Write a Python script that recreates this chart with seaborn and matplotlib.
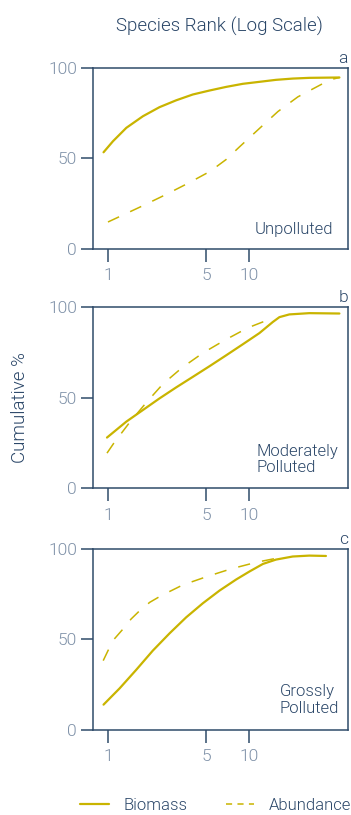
import numpy as np
import pandas as pd
import matplotlib
matplotlib.use("Agg")
import matplotlib.pyplot as plt
from matplotlib.ticker import FixedLocator, FixedFormatter, NullLocator
import seaborn as sns

# ---- data: cumulative % against species rank (log scale) ----
panels = ["a", "b", "c"]
conditions = ["Unpolluted", "Moderately\nPolluted", "Grossly\nPolluted"]

# a: unpolluted
a_bio_rank = [0.93, 1.085, 1.35, 1.77, 2.32, 3.05, 4.0, 5.26, 6.9, 9.06,
              11.9, 15.6, 20.5, 26.9, 44]
a_bio_cum = [53.4, 59.5, 66.9, 73.3, 78.3, 82.1, 85.3, 87.5, 89.5, 91.2,
             92.3, 93.4, 94.1, 94.5, 94.7]
a_abu_rank = [1.0, 1.77, 2.57, 3.75, 5.32, 6.9, 8.59, 11.8, 16.1, 22.3,
              33.5, 39.9, 44]
a_abu_cum = [14.9, 23.9, 30.0, 36.5, 42.9, 49.4, 56.4, 66.3, 75.9, 84.0,
             91.3, 93.9, 94.7]

# b: moderately polluted
b_bio_rank = [0.984, 1.35, 1.77, 2.32, 3.05, 4.0, 5.26, 6.9, 9.06, 11.9,
              14.8, 16.5, 19.4, 26.9, 44]
b_bio_cum = [28.0, 36.8, 43.2, 49.6, 55.7, 61.5, 67.4, 73.4, 79.5, 85.7,
             91.8, 94.5, 96.0, 96.7, 96.5]
b_abu_rank = [0.984, 1.10, 1.41, 1.87, 2.45, 3.37, 4.72, 6.72, 9.84, 14.8]
b_abu_cum = [19.4, 24.9, 35.9, 47.3, 57.5, 66.7, 74.7, 81.7, 88.6, 94.0]

# c: grossly polluted
c_bio_rank = [0.93, 1.21, 1.59, 2.08, 2.74, 3.59, 4.72, 6.2, 8.13, 10.1,
              12.6, 15.6, 20.5, 26.9, 35.3]
c_bio_cum = [14.0, 23.0, 33.3, 43.8, 53.4, 62.2, 70.0, 77.0, 83.1, 87.5,
             91.7, 94.1, 95.8, 96.3, 96.1]
c_abu_rank = [0.925, 1.0, 1.11, 1.28, 1.46, 1.68, 1.98, 2.39, 3.40, 5.12,
              7.5, 11.3, 16.1]
c_abu_cum = [38.3, 43.8, 50.3, 55.8, 61.3, 65.9, 70.5, 74.2, 80.1, 84.9,
             89.0, 92.6, 95.0]

x_ticks = [1, 5, 10]
x_tick_labels = ["1", "5", "10"]
y_ticks = [0, 50, 100]
y_tick_labels = ["0", "50", "100"]

series = {
    "a": ((a_bio_rank, a_bio_cum), (a_abu_rank, a_abu_cum)),
    "b": ((b_bio_rank, b_bio_cum), (b_abu_rank, b_abu_cum)),
    "c": ((c_bio_rank, c_bio_cum), (c_abu_rank, c_abu_cum)),
}

# ---- styling ----
LINE = "#c9b400"
SPINE = "#2f4b6a"
TEXT = "#2a4668"
TICKTXT = "#7f91a8"

sns.set_theme(style="white")
plt.rcParams["font.family"] = ["Roboto", "DejaVu Sans"]
plt.rcParams["font.weight"] = 300

fig = plt.figure(figsize=(3.51, 8.15), dpi=100)

left, width = 0.265, 0.726
bottoms = [0.6945, 0.4009, 0.1043]
height = 0.2222
cond_pos = {"a": (0.635, 0.105), "b": (0.643, 0.16), "c": (0.733, 0.166)}

handles = None
for key, cond, bottom in zip(panels, conditions, bottoms):
    ax = fig.add_axes([left, bottom, width, height])
    (br, bc), (ar, ac) = series[key]
    df_b = pd.DataFrame({"rank": br, "cum": bc})
    df_a = pd.DataFrame({"rank": ar, "cum": ac})
    sns.lineplot(data=df_b, x="rank", y="cum", ax=ax, color=LINE, lw=1.6,
                 label="Biomass", legend=False)
    sns.lineplot(data=df_a, x="rank", y="cum", ax=ax, color=LINE, lw=1.1,
                 label="Abundance", legend=False)
    ax.lines[-1].set_dashes((8, 8))
    for ln in ax.lines:
        ln.set_solid_joinstyle("round")
        ln.set_solid_capstyle("round")

    ax.set_xscale("log")
    ax.set_xlim(0.783, 50.5)
    ax.set_ylim(0, 100)
    ax.xaxis.set_major_locator(FixedLocator(x_ticks))
    ax.xaxis.set_major_formatter(FixedFormatter(x_tick_labels))
    ax.xaxis.set_minor_locator(NullLocator())
    ax.yaxis.set_major_locator(FixedLocator(y_ticks))
    ax.yaxis.set_major_formatter(FixedFormatter(y_tick_labels))
    ax.set_xlabel("")
    ax.set_ylabel("")

    for s in ax.spines.values():
        s.set_visible(True)
        s.set_color(SPINE)
        s.set_linewidth(1.1)
    ax.tick_params(axis="both", which="major", direction="out", length=9,
                   width=1.1, color=SPINE, labelcolor=TICKTXT, labelsize=12.5)
    ax.tick_params(axis="y", pad=2.5, left=True)
    ax.tick_params(axis="x", pad=5, bottom=True)
    ax.grid(False)

    ax.text(1.0, 1.01, key, transform=ax.transAxes, ha="right", va="bottom",
            color=TEXT, fontsize=12.5)
    cx, cy = cond_pos[key]
    ax.text(cx, cy, cond, transform=ax.transAxes, ha="left", va="center",
            color=TEXT, fontsize=12, linespacing=1.1)
    if handles is None:
        handles = ax.get_legend_handles_labels()

fig.text(0.625, 0.967, "Species Rank (Log Scale)", ha="center", va="center",
         color=TEXT, fontsize=13.5)
fig.text(0.057, 0.5, "Cumulative %", ha="center", va="center", rotation=90,
         color=TEXT, fontsize=13.5)

leg = fig.legend(handles[0], handles[1], loc="center", ncol=2,
                 bbox_to_anchor=(0.615, 0.012), frameon=False, fontsize=12,
                 handlelength=1.7, columnspacing=2.3, handletextpad=0.9,
                 borderpad=0.0)
for t in leg.get_texts():
    t.set_color(TEXT)
leg.get_lines()[1].set_dashes((4, 3.5))

fig.savefig("out.png", dpi=100)
